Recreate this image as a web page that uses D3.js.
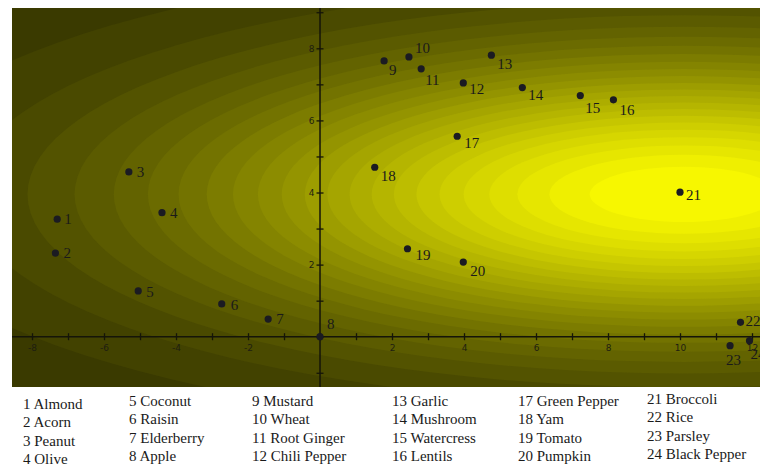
<!DOCTYPE html>
<html>
<head>
<meta charset="utf-8">
<script src="https://cdn.jsdelivr.net/npm/d3@7"></script>
<style>
  html, body { margin: 0; padding: 0; background: #ffffff; }
  svg { display: block; }
</style>
</head>
<body>
<svg id="chart" width="760" height="468"></svg>
<script>
// ---------- data ----------
const names = ["Almond","Acorn","Peanut","Olive","Coconut","Raisin","Elderberry","Apple",
  "Mustard","Wheat","Root Ginger","Chili Pepper","Garlic","Mushroom","Watercress","Lentils",
  "Green Pepper","Yam","Tomato","Pumpkin","Broccoli","Rice","Parsley","Black Pepper"];
const xValues = [-7.30,-7.35,-5.31,-4.39,-5.05,-2.73,-1.44,0.00,
  1.78,2.47,2.81,3.98,4.76,5.62,7.23,8.15,
  3.81,1.52,2.43,3.98,10.00,11.68,11.39,11.93];
const yValues = [3.26,2.32,4.57,3.44,1.27,0.91,0.49,0.00,
  7.65,7.76,7.43,7.04,7.81,6.91,6.69,6.57,
  5.56,4.70,2.44,2.07,4.01,0.40,-0.25,-0.11];
const xTickValues = [-8,-7,-6,-5,-4,-3,-2,-1,0,1,2,3,4,5,6,7,8,9,10,11,12];
const xTickLabels = ["-8","","-6","","-4","","-2","","","","2","","4","","6","","8","","10","","12"];
const yTickValues = [-1,0,1,2,3,4,5,6,7,8,9];
const yTickLabels = ["","","","2","","4","","6","","8",""];

// ---------- layout (not data) ----------
const plot = { left: 12, right: 760, top: 8, bottom: 387 };
// label offsets in pixels, per point (placement to avoid overlaps)
const labelDx = [7,8,8,8,8,9,8,7, 5,6,4,6,6,6,5,6, 7,6,8,7,6,5,-4,1];
const labelDy = [5,5,5,5,6,6,5,-8, 14,-4,16,11,14,12,17,15, 12,14,11,14,8,4,19,18];

const svg = d3.select("#chart");

const x = d3.scaleLinear().domain([-8.556, 12.222]).range([plot.left, plot.right]);
const y = d3.scaleLinear().domain([-1.395, 9.118]).range([plot.bottom, plot.top]);

// clip
svg.append("defs").append("clipPath").attr("id", "plotClip")
  .append("rect")
  .attr("x", plot.left).attr("y", plot.top)
  .attr("width", plot.right - plot.left).attr("height", plot.bottom - plot.top);

const g = svg.append("g").attr("clip-path", "url(#plotClip)");

// ---------- banded elliptical background ----------
const cx = x(10.1), cy = y(3.95);
const aspect = 3.4;      // horizontal / vertical radius
const spread = 455;      // px
const N = 24;
const shade = t => {
  const v = Math.round(58 + 197 * t);
  return d3.rgb(v, v, 0).toString();
};
g.append("rect")
  .attr("x", plot.left).attr("y", plot.top)
  .attr("width", plot.right - plot.left).attr("height", plot.bottom - plot.top)
  .attr("fill", shade(0));
g.selectAll("ellipse.band")
  .data(d3.range(1, N))
  .join("ellipse")
  .attr("class", "band")
  .attr("cx", cx).attr("cy", cy)
  .attr("rx", j => spread * Math.sqrt(-Math.log(j / N)))
  .attr("ry", j => spread * Math.sqrt(-Math.log(j / N)) / aspect)
  .attr("fill", j => shade(j / N));

// ---------- axes ----------
const x0 = y(0), y0 = x(0);
const axisColor = "#151508";

g.append("line")
  .attr("x1", plot.left).attr("x2", plot.right)
  .attr("y1", x0).attr("y2", x0)
  .attr("stroke", axisColor).attr("stroke-width", 1.5);
g.append("line")
  .attr("x1", y0).attr("x2", y0)
  .attr("y1", plot.top).attr("y2", plot.bottom)
  .attr("stroke", axisColor).attr("stroke-width", 1.5);

const xAxis = d3.axisBottom(x)
  .tickValues(xTickValues)
  .tickSize(7)
  .tickPadding(4)
  .tickFormat((d, i) => xTickLabels[i]);
const xg = g.append("g").attr("transform", `translate(0,${x0 - 3.5})`).call(xAxis);
xg.select(".domain").remove();

const yAxis = d3.axisLeft(y)
  .tickValues(yTickValues)
  .tickSize(7)
  .tickPadding(2)
  .tickFormat((d, i) => yTickLabels[i]);
const yg = g.append("g").attr("transform", `translate(${y0 + 3.5},0)`).call(yAxis);
yg.select(".domain").remove();

[xg, yg].forEach(a => {
  a.selectAll(".tick line").attr("stroke", axisColor).attr("stroke-width", 1.3);
  a.selectAll(".tick text")
    .attr("fill", "#1e1e10")
    .attr("font-family", "DejaVu Sans, sans-serif")
    .attr("font-size", 9);
});

// ---------- points ----------
const pts = names.map((n, i) => ({ id: i + 1, name: n, x: xValues[i], y: yValues[i], i }));

g.selectAll("circle.pt")
  .data(pts)
  .join("circle")
  .attr("class", "pt")
  .attr("cx", d => x(d.x))
  .attr("cy", d => y(d.y))
  .attr("r", 3.6)
  .attr("fill", "#1b1b22");

g.selectAll("text.lbl")
  .data(pts)
  .join("text")
  .attr("class", "lbl")
  .attr("x", d => x(d.x) + labelDx[d.i])
  .attr("y", d => y(d.y) + labelDy[d.i])
  .attr("font-family", "Liberation Serif, Times New Roman, serif")
  .attr("font-size", 15)
  .attr("fill", "#1a1a1a")
  .text(d => d.id);

// ---------- legend ----------
const colX = [23, 129, 252, 392, 518, 647];
const colY0 = [409, 406, 406, 406, 406, 404];
const rowStep = 18.4;
svg.append("g").selectAll("text")
  .data(pts)
  .join("text")
  .attr("x", d => colX[Math.floor(d.i / 4)])
  .attr("y", d => colY0[Math.floor(d.i / 4)] + (d.i % 4) * rowStep)
  .attr("font-family", "Liberation Serif, Times New Roman, serif")
  .attr("font-size", 15)
  .attr("fill", "#1a1a1a")
  .text(d => `${d.id} ${d.name}`);
</script>
</body>
</html>
